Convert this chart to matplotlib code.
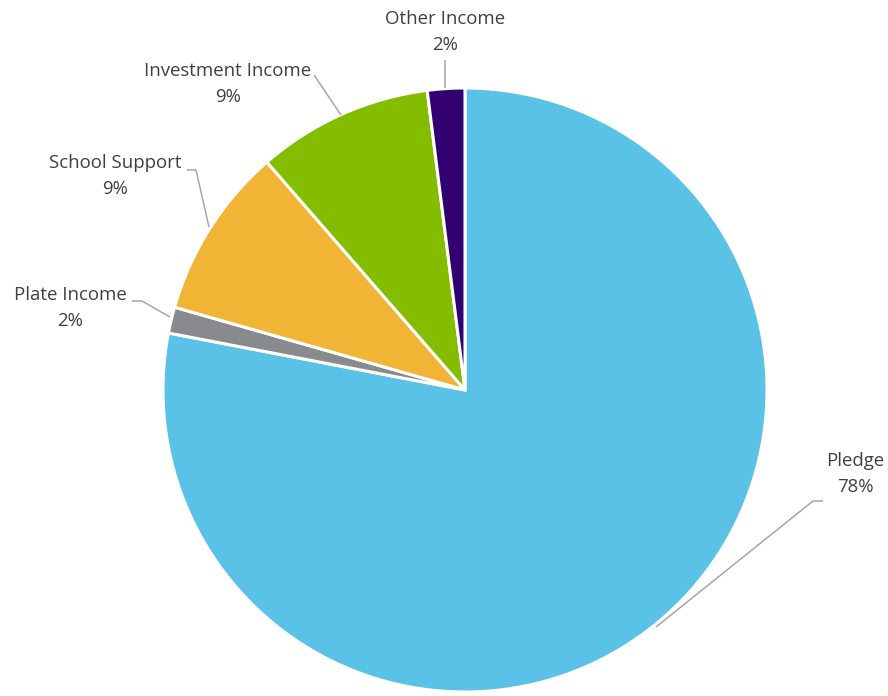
import matplotlib
matplotlib.use("Agg")
import matplotlib.pyplot as plt
import numpy as np

categories = ["Pledge", "Plate Income", "School Support", "Investment Income", "Other Income"]
values = [78.1, 1.4, 9.2, 9.4, 2.0]
pct_labels = ["78%", "2%", "9%", "9%", "2%"]
colors = ["#5BC2E7", "#898A8D", "#F1B434", "#84BD00", "#330072"]

W, H = 888, 696
CX, CY, R = 465, 390, 302


def px(x, y):
    return ((x - CX) / R, (CY - y) / R)


fig = plt.figure(figsize=(W / 100, H / 100), dpi=100)
ax = fig.add_axes([0, 0, 1, 1])

wedges, _ = ax.pie(values, startangle=90, counterclock=False, colors=colors,
                   radius=1, center=(0, 0), frame=True,
                   wedgeprops=dict(edgecolor="white", linewidth=2.2))
ax.set_xlim(-CX / R, (W - CX) / R)
ax.set_ylim(-(H - CY) / R, CY / R)
ax.set_aspect("equal")
ax.axis("off")

# label layout (pixel positions): text center, leader polyline
layout = {
    "Pledge": ((855, 474), [(823, 501), (813, 501), (656, 627)]),
    "Plate Income": ((70, 308), [(132, 301), (142, 301), (170, 317)]),
    "School Support": ((115, 176), [(187, 170), (196, 170), (209, 227)]),
    "Investment Income": ((228, 84), [(314, 75), (341, 115)]),
    "Other Income": ((445, 32), [(445, 60), (445, 88)]),
}

font = ["Open Sans", "DejaVu Sans"]
for cat, pct in zip(categories, pct_labels):
    (tx, ty), pts = layout[cat]
    x, y = px(tx, ty)
    ax.text(x, y, f"{cat}\n{pct}", ha="center", va="center", fontsize=13.4,
            color="#404040", family=font, linespacing=1.55)
    xs, ys = zip(*[px(a, b) for a, b in pts])
    ax.plot(xs, ys, color="#A6A6A6", lw=1.1, solid_capstyle="butt")

fig.savefig("out.png", dpi=100)
